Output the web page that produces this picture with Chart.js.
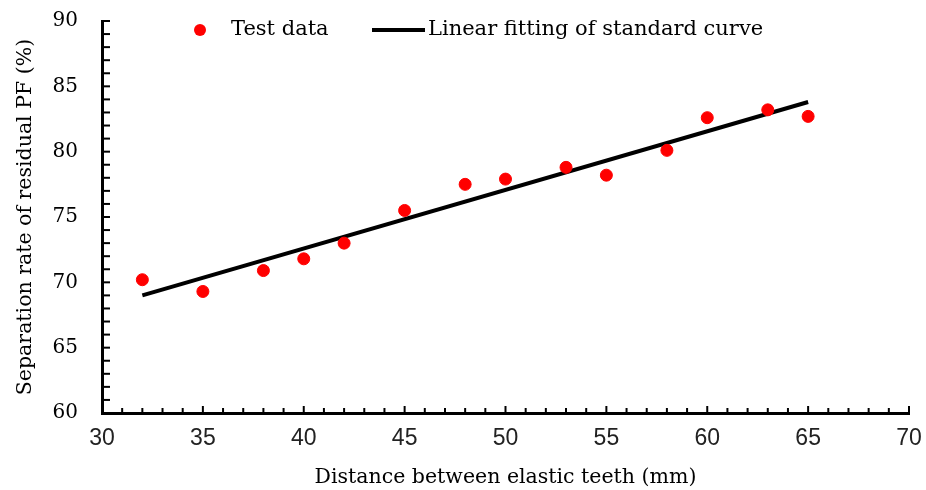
<!DOCTYPE html>
<html>
<head>
<meta charset="utf-8">
<script src="https://cdn.jsdelivr.net/npm/chart.js@4.4.0/dist/chart.umd.min.js"></script>
<style>
  html, body { margin: 0; padding: 0; background: #fff; }
  #wrap { width: 926px; height: 490px; }
</style>
</head>
<body>
<div id="wrap"><canvas id="chart"></canvas></div>
<script>
// dados
const distances = [32, 35, 38, 40, 42, 45, 48, 50, 53, 55, 58, 60, 63, 65];
const separationRates = [70.2, 69.3, 70.9, 71.8, 73.0, 75.5, 77.5, 77.9, 78.8, 78.2, 80.1, 82.6, 83.2, 82.7];
const fitX = [32, 65];
const fitY = [69.0, 83.8];
const xTicks = [30, 35, 40, 45, 50, 55, 60, 65, 70];
const yTicks = [60, 65, 70, 75, 80, 85, 90];

const serif = "'DejaVu Serif', serif";
const sans = "'Liberation Sans', Arial, sans-serif";

// marcas de escala para dentro (maiores e menores)
const innerTicks = {
    id: 'innerTicks',
    afterDraw(chart) {
        const { ctx, chartArea, scales } = chart;
        ctx.save();
        ctx.strokeStyle = '#000';
        ctx.lineWidth = 2;
        for (let v = xTicks[0]; v <= xTicks[xTicks.length - 1]; v++) {
            const px = scales.x.getPixelForValue(v);
            const len = xTicks.includes(v) ? 7 : 5;
            ctx.beginPath();
            ctx.moveTo(px, chartArea.bottom);
            ctx.lineTo(px, chartArea.bottom - len);
            ctx.stroke();
        }
        for (let v = yTicks[0]; v <= yTicks[yTicks.length - 1]; v++) {
            const py = scales.y.getPixelForValue(v);
            ctx.beginPath();
            ctx.moveTo(chartArea.left, py);
            ctx.lineTo(chartArea.left + 8, py);
            ctx.stroke();
        }
        ctx.restore();
    }
};

// legenda desenhada dentro da área do gráfico
const topLegend = {
    id: 'topLegend',
    afterDraw(chart) {
        const { ctx } = chart;
        const ds = chart.data.datasets;
        const y = 30;
        ctx.save();
        ctx.font = '21px ' + serif;
        ctx.textBaseline = 'middle';

        ctx.beginPath();
        ctx.fillStyle = ds[0].backgroundColor;
        ctx.arc(200, y, 6, 0, Math.PI * 2);
        ctx.fill();
        ctx.fillStyle = '#000';
        ctx.fillText(ds[0].label, 231, y);

        ctx.strokeStyle = ds[1].borderColor;
        ctx.lineWidth = ds[1].borderWidth;
        ctx.beginPath();
        ctx.moveTo(372, y);
        ctx.lineTo(425, y);
        ctx.stroke();
        ctx.fillText(ds[1].label, 428, y);
        ctx.restore();
    }
};

new Chart(document.getElementById('chart'), {
    type: 'scatter',
    data: {
        datasets: [
            {
                label: 'Test data',
                data: distances.map((d, i) => ({ x: d, y: separationRates[i] })),
                backgroundColor: '#ff0000',
                borderColor: '#ff0000',
                pointRadius: 6,
                pointHoverRadius: 6,
                order: 1
            },
            {
                type: 'line',
                label: 'Linear fitting of standard curve',
                data: fitX.map((d, i) => ({ x: d, y: fitY[i] })),
                borderColor: '#000',
                borderWidth: 4,
                pointRadius: 0,
                fill: false,
                order: 2
            }
        ]
    },
    options: {
        responsive: true,
        maintainAspectRatio: false,
        animation: false,
        layout: { padding: { top: 21, right: 17, left: 0, bottom: 0 } },
        plugins: {
            legend: { display: false },
            tooltip: { enabled: false }
        },
        scales: {
            x: {
                type: 'linear',
                min: 30,
                max: 70,
                afterFit: (scale) => {
                    scale.height = 77;
                    scale.paddingLeft = 0;
                    scale.paddingRight = 0;
                },
                afterBuildTicks: (scale) => { scale.ticks = xTicks.map(v => ({ value: v })); },
                ticks: {
                    font: { family: sans, size: 23 },
                    color: '#222',
                    padding: 12
                },
                grid: { display: false, drawTicks: false },
                border: { display: true, color: '#000', width: 3 },
                title: {
                    display: true,
                    text: 'Distance between elastic teeth (mm)',
                    font: { family: serif, size: 20.5 },
                    color: '#000',
                    padding: 0
                }
            },
            y: {
                min: 60,
                max: 90,
                afterFit: (scale) => {
                    scale.width = 102;
                    scale.paddingTop = 0;
                    scale.paddingBottom = 0;
                },
                afterBuildTicks: (scale) => { scale.ticks = yTicks.map(v => ({ value: v })); },
                ticks: {
                    font: { family: serif, size: 20 },
                    color: '#000',
                    padding: 24
                },
                grid: { display: false, drawTicks: false },
                border: { display: true, color: '#000', width: 3 },
                title: {
                    display: true,
                    text: 'Separation rate of residual PF (%)',
                    font: { family: serif, size: 20.5 },
                    color: '#000',
                    padding: { top: 13, bottom: 0 }
                }
            }
        }
    },
    plugins: [innerTicks, topLegend]
});
</script>
</body>
</html>
